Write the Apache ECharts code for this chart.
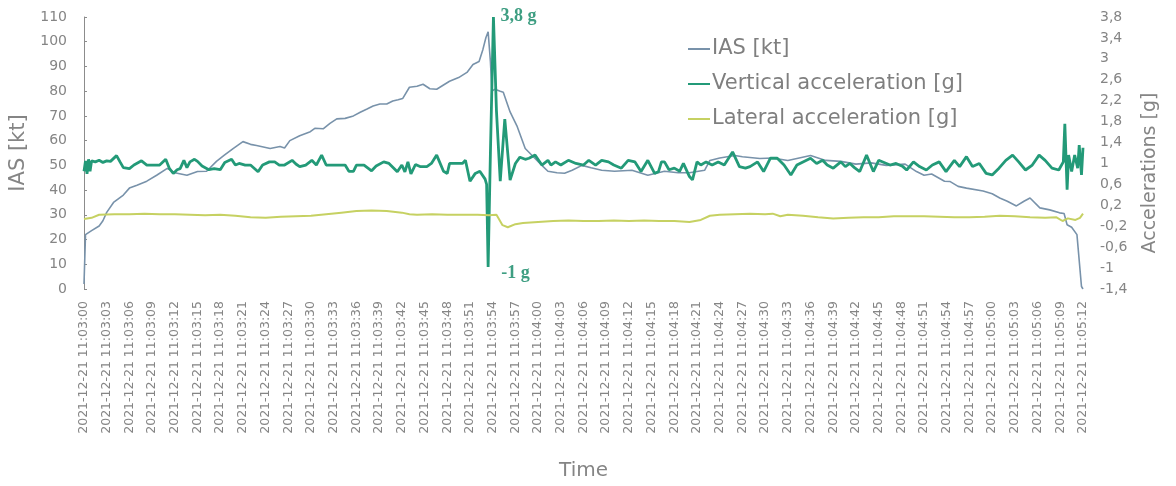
<!DOCTYPE html>
<html>
<head>
<meta charset="utf-8">
<script src="https://cdn.jsdelivr.net/npm/echarts@6/dist/echarts.min.js"></script>
<style>
html,body{margin:0;padding:0;background:#fff;}
#c{width:1176px;height:486px;}
</style>
</head>
<body>
<div id="c"></div>
<script>
// seconds after 2021-12-21 11:03:00
const iasT = [0,0.2,1,2,2.5,3,3.9,5.2,6,7,8.3,9.6,11,12,13.6,15,16.2,17.5,18.5,19.7,21,22,22.8,24.6,25.9,26.5,27.2,28.5,29.9,30.5,31.6,32.5,33.4,34.5,35.6,36.5,37.4,38.2,39.1,40,40.8,41.5,42.1,43,44,44.8,45.7,46.6,47.5,48.3,49.5,50.6,51.4,52.2,52.7,53.1,53.4,53.7,53.9,54.3,55,55.4,56.3,57.2,58.3,59.6,60.5,61.3,62.5,63.5,64.5,65.8,67,68.4,70.1,72.4,74.5,76.7,78.5,80,82,82.7,84,86,87,89.3,91,93,96,98,100,102,104,106,108.5,110,111,112,113.7,114.4,115.5,116.6,118.8,120,121,122,123.2,124.2,125,126.3,127.6,128.9,129.5,129.9,130.5,131.2,131.8,132];
const iasV = [2,22,23.6,25.5,27.6,31,35,38,40.8,42,43.6,46,48.8,47,46,47.5,47.6,51.6,54,56.8,59.6,58.5,58,56.8,57.6,57,60,62,63.6,65,64.8,67,68.8,69,70,71.5,72.8,74,74.8,74.8,76,76.5,77,81.6,82,82.8,81,80.8,82.5,84,85.5,87.6,90.8,92,96.8,101.6,104,92,80,80.8,80,79.6,71.6,66,56.8,52.8,50,47.6,47,46.8,48,50,49,48,47.6,48,46,47.6,47,47,48,52,53,54,53.5,52.8,53,52,54,52,51.6,50.5,51,50,50.5,47.5,46,46.5,43.6,43.5,41.5,40.8,39.6,38.5,36.8,35.5,33.6,35.5,36.8,32.8,32,30.8,30.5,26,25,22,1,0];

const vertT = [0,0.2,0.4,0.6,0.8,1,1.5,2,2.5,3,3.5,4.3,4.8,5.2,6,6.6,7.6,8.3,9,10,10.8,11.3,11.8,12.3,12.7,13.2,13.6,14,14.6,15,15.6,16.5,17.2,18,18.6,19.5,20,20.5,21.3,22,23,23.6,24.5,25.2,25.8,26.5,27.5,28,28.5,29.3,30.1,30.7,31.4,32,33,34.5,35,35.6,36,37,38,38.6,39.6,40.3,41,41.4,42,42.4,42.8,43.2,43.8,44.4,45.3,45.9,46.6,47.5,48,48.3,49,50,50.4,51,51.7,52.3,53,53.2,53.4,53.7,54.1,54.5,55,55.6,56.3,57,57.6,58.3,58.8,59.6,60.5,61.3,61.7,62.3,63,64,65,66,66.7,67.6,68.4,69.3,70,71,71.9,72.8,73.6,74.5,75.4,75.9,76.3,76.7,77.3,78,78.7,79.2,80,80.4,81,81.5,82.2,83,83.8,84.6,85.7,86.6,87.4,88,89,89.8,90.7,91.6,92.5,93.4,94.2,95,96,96.8,97.6,98.2,99,100,100.6,101.2,101.8,102.5,103.4,104.3,105,106.5,107.3,108.2,108.7,109.6,110.4,111.3,112.1,113,113.9,115,115.7,116.6,117.4,118.3,119.2,120,120.9,121.8,122.7,123.5,124.4,125.3,126.2,127,127.9,128.8,129.4,129.6,129.9,130.1,130.5,130.9,131.3,131.5,131.8,132];
const vertV = [0.85,1.05,0.8,1.08,0.85,1.05,1.03,1.06,1.02,1.05,1.04,1.15,1.02,0.92,0.9,0.97,1.05,0.97,0.97,0.97,1.08,0.9,0.81,0.88,0.9,1.06,0.92,1.03,1.08,1.04,0.95,0.88,0.9,0.88,1.02,1.08,0.97,1.0,0.97,0.97,0.84,0.97,1.03,1.03,0.97,0.97,1.06,0.99,0.94,0.97,1.06,0.97,1.16,0.97,0.97,0.97,0.85,0.85,0.97,0.97,0.86,0.95,1.03,1.0,0.9,0.84,0.97,0.84,1.03,0.8,0.98,0.94,0.94,1.0,1.16,0.85,0.81,1.0,1.0,1.0,1.06,0.66,0.81,0.85,0.7,0.6,-0.98,1.2,3.8,2.0,0.66,1.85,0.68,1.0,1.12,1.08,1.1,1.16,0.97,1.06,0.97,1.03,0.97,1.06,1.0,0.97,1.06,0.97,1.06,1.03,0.97,0.91,1.06,1.03,0.845,1.06,0.81,0.84,1.03,1.03,0.88,0.91,0.85,1.0,0.75,0.685,1.03,0.97,1.03,0.97,1.03,0.97,1.22,0.94,0.91,0.94,1.03,0.845,1.1,1.1,0.97,0.78,0.97,1.03,1.1,1.0,1.06,0.97,0.91,1.03,0.94,1.0,0.92,0.845,1.16,0.845,1.06,0.97,1.0,0.94,0.875,1.03,0.94,0.875,0.97,1.03,0.845,1.06,0.94,1.13,0.94,1.0,0.81,0.78,0.91,1.06,1.16,1.03,0.875,0.97,1.16,1.06,0.91,0.875,1.03,1.76,0.5,1.16,0.845,1.16,0.91,1.35,0.78,1.3];

const latT = [0,1,2,4,6,8,10,12,14,16,18,20,22,24,26,28,30,32,34,36,38,40,42,43,44,46,48,50,52,53.5,54.5,55.3,56,57,58,60,62,64,66,68,70,72,74,76,78,80,81.5,82.7,84,86,88,90,91,92,93,95,97,99,101,103,105,107,109,111,113,115,117,119,121,123,125,127,128.5,129.3,130,131,131.6,132];
const latV = [-0.06,-0.04,0.02,0.03,0.03,0.04,0.03,0.03,0.02,0.01,0.02,0.0,-0.03,-0.04,-0.02,-0.01,0.0,0.03,0.06,0.09,0.1,0.09,0.06,0.03,0.02,0.03,0.02,0.02,0.02,0.01,0.02,-0.18,-0.22,-0.16,-0.14,-0.12,-0.1,-0.09,-0.1,-0.1,-0.09,-0.1,-0.09,-0.1,-0.1,-0.12,-0.08,0.0,0.02,0.03,0.04,0.03,0.04,-0.01,0.02,0.0,-0.03,-0.05,-0.04,-0.03,-0.03,-0.01,-0.01,-0.01,-0.02,-0.03,-0.03,-0.02,0.0,-0.01,-0.03,-0.04,-0.03,-0.1,-0.05,-0.08,-0.04,0.04];

const seriesNames = ['IAS [kt]', 'Vertical acceleration [g]', 'Lateral acceleration [g]'];
const peakLabel = '3,8 g';
const troughLabel = '-1 g';
const datePrefix = '2021-12-21 ';

function zip(t, v) { return t.map((x, i) => [x, v[i]]); }
function pad(n) { return (n < 10 ? '0' : '') + n; }
function timeLabel(s) {
  s = Math.round(s);
  const m = 3 + Math.floor(s / 60);
  const sec = s % 60;
  return datePrefix + '11:' + pad(m) + ':' + pad(sec);
}

const FONT = 'DejaVu Sans';
const GREY = '#858585';
const C_IAS = '#7892aa', C_VERT = '#239a78', C_LAT = '#c6d162';

const chart = echarts.init(document.getElementById('c'));
chart.setOption({
  animation: false,
  backgroundColor: '#ffffff',
  textStyle: { fontFamily: FONT },
  grid: { left: 84, right: 93, top: 17, bottom: 194, containLabel: false },
  legend: {
    orient: 'vertical',
    left: 683,
    top: 32,
    icon: 'rect',
    itemWidth: 22,
    itemHeight: 2,
    itemGap: 11,
    textStyle: { fontFamily: FONT, fontSize: 21, color: '#7f7f7f', lineHeight: 24, padding: [0, 0, 0, -3] },
    data: seriesNames
  },
  xAxis: {
    type: 'value',
    min: 0, max: 132, interval: 3,
    name: 'Time',
    nameLocation: 'middle',
    nameGap: 172,
    nameTextStyle: { fontFamily: FONT, fontSize: 20, color: GREY },
    axisLine: { show: false },
    axisTick: { show: false },
    splitLine: { show: false },
    axisLabel: {
      rotate: 90, margin: 12, fontSize: 12.5, color: GREY, fontFamily: FONT,
      formatter: v => timeLabel(v)
    }
  },
  yAxis: [
    {
      type: 'value', min: 0, max: 110, interval: 10,
      name: 'IAS [kt]', nameLocation: 'middle', nameGap: 48, nameRotate: 90,
      nameTextStyle: { fontFamily: FONT, fontSize: 21, color: GREY },
      axisLine: { show: true, lineStyle: { color: '#8c8c8c', width: 1 } },
      axisTick: { show: true, inside: true, length: 3, lineStyle: { color: '#8c8c8c' } },
      splitLine: { show: false },
      axisLabel: { fontSize: 14, color: GREY, margin: 17, fontFamily: FONT }
    },
    {
      type: 'value', min: -1.4, max: 3.8, interval: 0.4,
      name: 'Accelerations [g]', nameLocation: 'middle', nameGap: 58, nameRotate: 90,
      nameTextStyle: { fontFamily: FONT, fontSize: 19, color: GREY, verticalAlign: 'top', padding: [0, 40, 0, 0] },
      position: 'right',
      axisLine: { show: false },
      axisTick: { show: false },
      splitLine: { show: false },
      axisLabel: {
        fontSize: 14, color: GREY, margin: 17, fontFamily: FONT,
        formatter: v => String(+v.toFixed(1)).replace('.', ',')
      }
    }
  ],
  series: [
    {
      name: seriesNames[0], type: 'line', yAxisIndex: 0, symbol: 'none',
      lineStyle: { color: C_IAS, width: 1.6 }, itemStyle: { color: C_IAS },
      data: zip(iasT, iasV)
    },
    {
      name: seriesNames[1], type: 'line', yAxisIndex: 1, symbol: 'none',
      lineStyle: { color: C_VERT, width: 2.8 }, itemStyle: { color: C_VERT },
      data: zip(vertT, vertV),
      markPoint: {
        symbol: 'circle', symbolSize: 0,
        label: { show: true, fontFamily: 'Liberation Serif', fontWeight: 'bold', fontSize: 18, color: '#3e9e82' },
        data: [
          { type: 'max', label: { formatter: peakLabel, position: 'right', offset: [2, -1] } },
          { type: 'min', label: { formatter: troughLabel, position: 'right', offset: [8, 6] } }
        ]
      }
    },
    {
      name: seriesNames[2], type: 'line', yAxisIndex: 1, symbol: 'none',
      lineStyle: { color: C_LAT, width: 2 }, itemStyle: { color: C_LAT },
      data: zip(latT, latV)
    }
  ]
});
</script>
</body>
</html>
